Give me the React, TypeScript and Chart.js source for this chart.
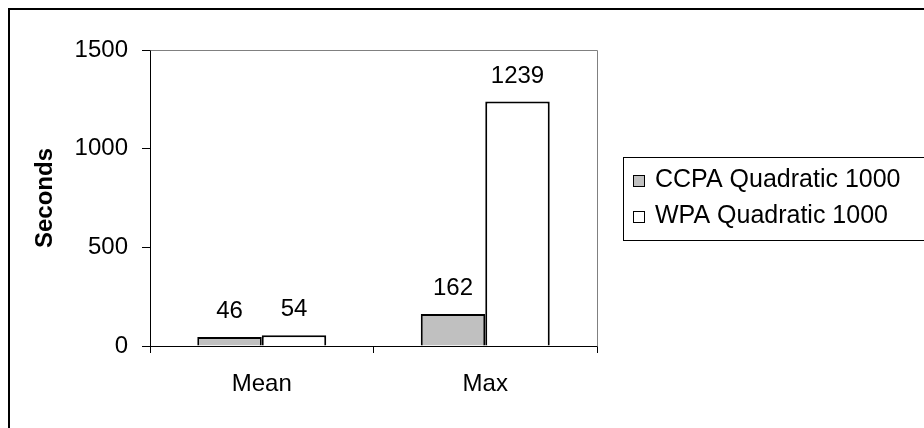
import React, { useEffect, useRef } from "react";
import { Chart, registerables } from "chart.js";

Chart.register(...registerables);

const categories = ["Mean", "Max"];
const ccpaValues = [46, 162];
const wpaValues = [54, 1239];
const seriesNames = ["CCPA Quadratic 1000", "WPA Quadratic 1000"];
const seriesColors = ["#c0c0c0", "#ffffff"];
const yTicks = [0, 500, 1000, 1500];

const FONT = "'Liberation Sans', Arial, sans-serif";

const decorPlugin = {
  id: "decor",
  afterDraw(chart: any) {
    const ctx = chart.ctx;
    const ca = chart.chartArea;
    ctx.save();
    // outer frame
    ctx.strokeStyle = "#000";
    ctx.lineWidth = 2;
    ctx.strokeRect(9, 9, 940, 440);
    // plot area top/right border
    ctx.strokeStyle = "#808080";
    ctx.lineWidth = 1;
    ctx.beginPath();
    ctx.moveTo(Math.round(ca.left) + 0.5, Math.round(ca.top) + 0.5);
    ctx.lineTo(Math.round(ca.right) + 0.5, Math.round(ca.top) + 0.5);
    ctx.lineTo(Math.round(ca.right) + 0.5, Math.round(ca.bottom) + 0.5);
    ctx.stroke();
    // data labels
    ctx.fillStyle = "#000";
    ctx.font = `24px ${FONT}`;
    ctx.textAlign = "center";
    ctx.textBaseline = "alphabetic";
    chart.data.datasets.forEach((ds: any, di: number) => {
      const meta = chart.getDatasetMeta(di);
      meta.data.forEach((bar: any, i: number) => {
        ctx.fillText(String(ds.data[i]), bar.x, bar.y - 19);
      });
    });
    // legend
    const lx = 623.5;
    const ly = 157.5;
    ctx.strokeStyle = "#000";
    ctx.lineWidth = 1;
    ctx.strokeRect(lx, ly, 400, 83);
    ctx.textAlign = "left";
    ctx.font = `25px ${FONT}`;
    chart.data.datasets.forEach((ds: any, di: number) => {
      const baseline = 187 + di * 36;
      ctx.fillStyle = ds.backgroundColor;
      ctx.fillRect(633, baseline - 12, 12, 12);
      ctx.strokeStyle = "#000";
      ctx.lineWidth = 1;
      ctx.strokeRect(633.5, baseline - 11.5, 11, 11);
      ctx.fillStyle = "#000";
      ctx.fillText(ds.label, 655, baseline);
    });
    ctx.restore();
  },
};

export default function App() {
  const ref = useRef<HTMLCanvasElement | null>(null);
  useEffect(() => {
    if (!ref.current) return;
    const chart = new Chart(ref.current, {
      type: "bar",
      data: {
        labels: categories,
        datasets: [
          {
            label: seriesNames[0],
            data: ccpaValues,
            backgroundColor: seriesColors[0],
            borderColor: "#000",
            borderWidth: 2,
            categoryPercentage: 0.577,
            barPercentage: 1,
          },
          {
            label: seriesNames[1],
            data: wpaValues,
            backgroundColor: seriesColors[1],
            borderColor: "#000",
            borderWidth: 2,
            categoryPercentage: 0.577,
            barPercentage: 1,
          },
        ],
      },
      options: {
        responsive: false,
        animation: false,
        devicePixelRatio: 1,
        layout: { padding: { top: 50, right: 327, bottom: 0, left: 0 } },
        plugins: { legend: { display: false }, tooltip: { enabled: false } },
        scales: {
          x: {
            grid: { drawOnChartArea: false, tickLength: 7, color: "#000", offset: true },
            border: { color: "#000", width: 1 },
            ticks: { color: "#000", font: { family: FONT, size: 24 }, padding: 17 },
            afterFit: (s: any) => {
              s.height = 82;
            },
          },
          y: {
            min: 0,
            max: 1500,
            afterBuildTicks: (s: any) => {
              s.ticks = yTicks.map((v) => ({ value: v }));
            },
            grid: { drawOnChartArea: false, tickLength: 8, color: "#000" },
            border: { color: "#000", width: 1 },
            ticks: {
              color: "#000",
              font: { family: FONT, size: 24 },
              padding: 14,
              callback: (v: any) => String(v),
            },
            title: {
              display: true,
              text: "Seconds",
              color: "#000",
              font: { family: FONT, size: 24, weight: "bold" },
              padding: { top: 31, bottom: 0 },
            },
            afterFit: (s: any) => {
              s.width = 150;
            },
          },
        },
      },
      plugins: [decorPlugin],
    });
    return () => chart.destroy();
  }, []);
  return (
    <div style={{ position: "fixed", left: 0, top: 0, width: 924, height: 428, background: "#fff" }}>
      <canvas ref={ref} width={924} height={428} style={{ width: 924, height: 428, display: "block" }} />
    </div>
  );
}
